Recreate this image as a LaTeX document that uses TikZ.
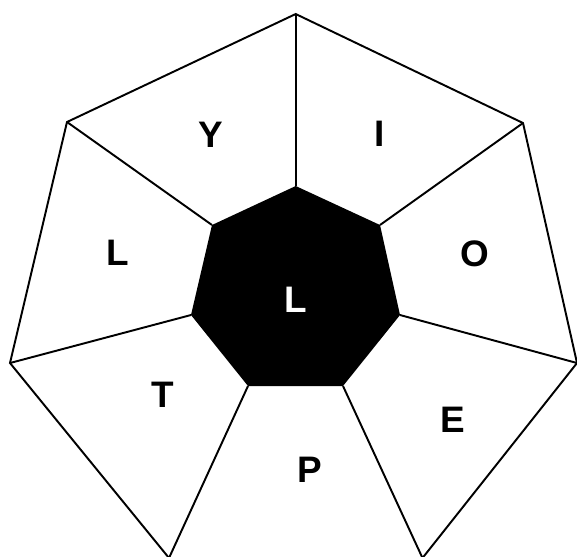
\documentclass[tikz,border=0pt]{standalone}
\usepackage{fontspec}
\setmainfont{Liberation Sans}
\usetikzlibrary{positioning}

\tikzset{
  edge/.style={line width=1.1pt,line join=miter},
  lbl/.style={font=\fontsize{21}{25}\selectfont\bfseries,inner sep=0pt}
}

\begin{document}
\begin{tikzpicture}[x=0.02cm,y=-0.02cm]
\useasboundingbox (0,0) rectangle (577,556);
% outer and inner corners
\foreach \n/\x/\y in {o1/295.7/14,o2/523/123,o3/577/363,o4/422.5/558,o5/169/558,o6/10/363,o7/67/122}
  \coordinate (\n) at (\x,\y);
\foreach \n/\x/\y in {i1/295.7/186,i2/380/225,i3/400/315,i4/343/386,i5/248/386,i6/191/315,i7/212/225}
  \coordinate (\n) at (\x,\y);
\draw[edge] (o1) -- (o2) -- (o3) -- (o4) -- (o5) -- (o6) -- (o7) -- cycle;
\foreach \k in {1,...,7} \draw[edge] (o\k) -- (i\k);
\fill[black] (i1) -- (i2) -- (i3) -- (i4) -- (i5) -- (i6) -- (i7) -- cycle;
% letters
\node[lbl] (ly) at (211,135) {Y};
\node[lbl] (li) at (380,134) {I};
\node[lbl] (lo) at (475,254) {O};
\node[lbl] (le) at (453,420) {E};
\node[lbl] (lp) at (310,470) {P};
\node[lbl] (lt) at (163,395) {T};
\node[lbl] (ll) at (118,253) {L};
\node[lbl,text=white] (lc) at (296,300) {L};
\end{tikzpicture}
\end{document}
